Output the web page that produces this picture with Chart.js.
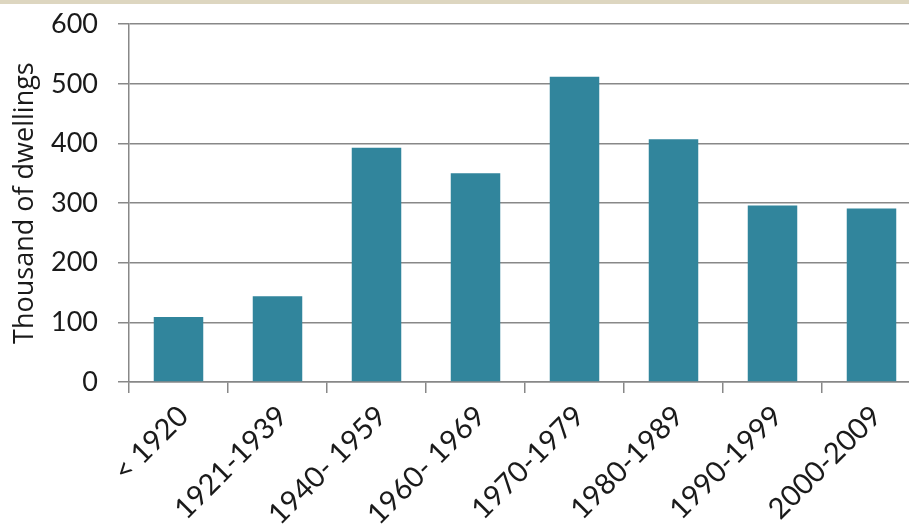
<!DOCTYPE html>
<html>
<head>
<meta charset="utf-8">
<script src="https://cdn.jsdelivr.net/npm/chart.js@4"></script>
<style>
  html, body { margin: 0; padding: 0; background: #fff; overflow: hidden; }
  #strip { position: absolute; left: 0; top: 0; width: 909px; height: 4px; background: #ddd6c0; }
  #wrap { position: absolute; left: 0; top: -12px; width: 925px; height: 537px; }
</style>
</head>
<body>
<div id="wrap"><canvas id="chart"></canvas></div>
<div id="strip"></div>
<script>
// dwellings by period of construction (thousands)
const periods = ["< 1920", "1921-1939", "1940- 1959", "1960- 1969", "1970-1979", "1980-1989", "1990-1999", "2000-2009"];
const dwellings = [109, 144, 393, 350, 512, 407, 296, 291];
const yTicks = [0, 100, 200, 300, 400, 500, 600];

const GRID = "#888888";
const BAR = "#31859c";
const TXT = "#1a1a1a";

new Chart(document.getElementById("chart"), {
  type: "bar",
  data: {
    labels: periods,
    datasets: [{ data: dwellings, backgroundColor: BAR, barPercentage: 0.5, categoryPercentage: 1 }],
  },
  options: {
    responsive: true,
    maintainAspectRatio: false,
    animation: false,
    layout: { padding: { top: 13, right: 4, left: 0, bottom: 0 } },
    plugins: { legend: { display: false }, tooltip: { enabled: false } },
    scales: {
      x: {
        grid: { offset: true, drawOnChartArea: false, tickLength: 11, color: GRID, lineWidth: 1.5 },
        border: { color: GRID, width: 1.5 },
        ticks: { minRotation: 45, maxRotation: 45, padding: 6, labelOffset: 5, color: TXT, font: { family: "Lato", size: 29 } },
        afterFit: s => { s.height = 143; },
      },
      y: {
        min: 0, max: 600,
        afterBuildTicks: s => { s.ticks = yTicks.map(v => ({ value: v })); },
        grid: { tickLength: 11, color: GRID, lineWidth: 1.5 },
        border: { color: GRID, width: 1.5 },
        ticks: { padding: 20, color: TXT, font: { family: "Lato", size: 27 } },
        title: { display: true, text: "Thousand of dwellings", color: TXT, padding: { top: 9, bottom: 0 }, font: { family: "Open Sans", size: 27 } },
        afterFit: s => { s.width = 129; },
      },
    },
  },
});
</script>
</body>
</html>
